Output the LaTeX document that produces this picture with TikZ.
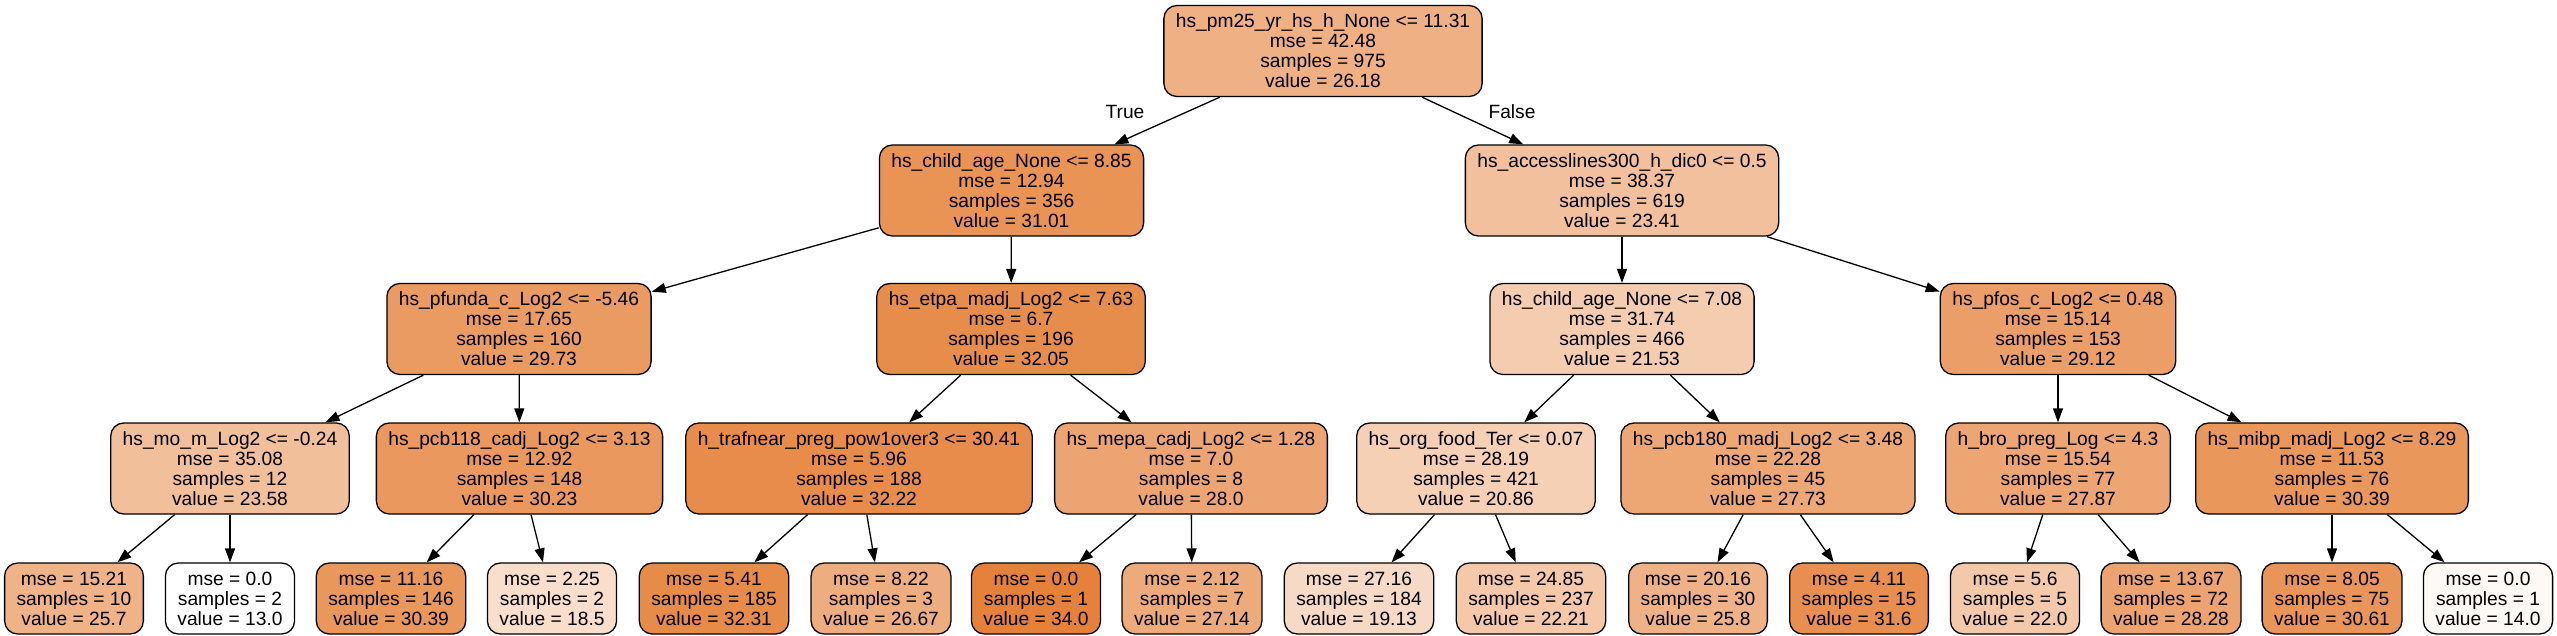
\documentclass[tikz,border=0pt]{standalone}
\usepackage{fontspec}
\setmainfont{Liberation Sans}
\usepackage{tikz}
\usetikzlibrary{arrows.meta}
\definecolor{treeorange}{RGB}{229,129,57}
\tikzstyle{splitnode} = [rectangle, rounded corners=13pt, draw=black, line width=1.3pt, text centered, align=center, inner xsep=12pt, inner ysep=0pt, minimum height=91pt, font=\fontsize{19.2}{20}\selectfont]
\tikzstyle{leafnode} = [splitnode, minimum height=71pt]
\tikzstyle{treearrow} = [line width=1.3pt, ->, >={Triangle[length=14pt,width=10pt]}, color=black]
\tikzstyle{branch} = [font=\fontsize{19.2}{20}\selectfont, inner sep=0pt]

\begin{document}
\begin{tikzpicture}[x=1pt, y=-1pt]
    \useasboundingbox (0,0) rectangle (2557,636);

    % Root
    \node[splitnode, fill=treeorange!62.8] (pm25) at (1323, 51) {hs\_pm25\_yr\_hs\_h\_None <= 11.31\\mse = 42.48\\samples = 975\\value = 26.18};

    % Level 1
    \node[splitnode, fill=treeorange!85.8] (childage) at (1011.5, 190.5) {hs\_child\_age\_None <= 8.85\\mse = 12.94\\samples = 356\\value = 31.01};
    \node[splitnode, fill=treeorange!49.6] (access) at (1622, 190.5) {hs\_accesslines300\_h\_dic0 <= 0.5\\mse = 38.37\\samples = 619\\value = 23.41};

    % Level 2
    \node[splitnode, fill=treeorange!79.7] (pfunda) at (519, 329) {hs\_pfunda\_c\_Log2 <= -5.46\\mse = 17.65\\samples = 160\\value = 29.73};
    \node[splitnode, fill=treeorange!90.7] (etpa) at (1011, 329) {hs\_etpa\_madj\_Log2 <= 7.63\\mse = 6.7\\samples = 196\\value = 32.05};
    \node[splitnode, fill=treeorange!40.6] (childageb) at (1622, 329) {hs\_child\_age\_None <= 7.08\\mse = 31.74\\samples = 466\\value = 21.53};
    \node[splitnode, fill=treeorange!76.8] (pfos) at (2058, 329) {hs\_pfos\_c\_Log2 <= 0.48\\mse = 15.14\\samples = 153\\value = 29.12};

    % Level 3
    \node[splitnode, fill=treeorange!50.4] (mom) at (230, 468.5) {hs\_mo\_m\_Log2 <= -0.24\\mse = 35.08\\samples = 12\\value = 23.58};
    \node[splitnode, fill=treeorange!82.0] (pcbA) at (519.5, 468.5) {hs\_pcb118\_cadj\_Log2 <= 3.13\\mse = 12.92\\samples = 148\\value = 30.23};
    \node[splitnode, fill=treeorange!91.5] (traf) at (859, 468.5) {h\_trafnear\_preg\_pow1over3 <= 30.41\\mse = 5.96\\samples = 188\\value = 32.22};
    \node[splitnode, fill=treeorange!71.4] (mepa) at (1191, 468.5) {hs\_mepa\_cadj\_Log2 <= 1.28\\mse = 7.0\\samples = 8\\value = 28.0};
    \node[splitnode, fill=treeorange!37.4] (orgfood) at (1476, 468.5) {hs\_org\_food\_Ter <= 0.07\\mse = 28.19\\samples = 421\\value = 20.86};
    \node[splitnode, fill=treeorange!70.1] (pcbB) at (1768, 468.5) {hs\_pcb180\_madj\_Log2 <= 3.48\\mse = 22.28\\samples = 45\\value = 27.73};
    \node[splitnode, fill=treeorange!70.8] (bro) at (2058, 468.5) {h\_bro\_preg\_Log <= 4.3\\mse = 15.54\\samples = 77\\value = 27.87};
    \node[splitnode, fill=treeorange!82.8] (mibp) at (2332, 468.5) {hs\_mibp\_madj\_Log2 <= 8.29\\mse = 11.53\\samples = 76\\value = 30.39};

    % Leaves
    \node[leafnode, fill=treeorange!60.5] (leaf1) at (74, 598.5) {mse = 15.21\\samples = 10\\value = 25.7};
    \node[leafnode, fill=white] (leaf2) at (230, 598.5) {mse = 0.0\\samples = 2\\value = 13.0};
    \node[leafnode, fill=treeorange!82.8] (leaf3) at (391, 598.5) {mse = 11.16\\samples = 146\\value = 30.39};
    \node[leafnode, fill=treeorange!26.2] (leaf4) at (552, 598.5) {mse = 2.25\\samples = 2\\value = 18.5};
    \node[leafnode, fill=treeorange!92.0] (leaf5) at (714, 598.5) {mse = 5.41\\samples = 185\\value = 32.31};
    \node[leafnode, fill=treeorange!65.1] (leaf6) at (881, 598.5) {mse = 8.22\\samples = 3\\value = 26.67};
    \node[leafnode, fill=treeorange] (leaf7) at (1036, 598.5) {mse = 0.0\\samples = 1\\value = 34.0};
    \node[leafnode, fill=treeorange!67.3] (leaf8) at (1192, 598.5) {mse = 2.12\\samples = 7\\value = 27.14};
    \node[leafnode, fill=treeorange!29.2] (leaf9) at (1359, 598.5) {mse = 27.16\\samples = 184\\value = 19.13};
    \node[leafnode, fill=treeorange!43.9] (leaf10) at (1531, 598.5) {mse = 24.85\\samples = 237\\value = 22.21};
    \node[leafnode, fill=treeorange!61.0] (leaf11) at (1698, 598.5) {mse = 20.16\\samples = 30\\value = 25.8};
    \node[leafnode, fill=treeorange!88.6] (leaf12) at (1859, 598.5) {mse = 4.11\\samples = 15\\value = 31.6};
    \node[leafnode, fill=treeorange!42.9] (leaf13) at (2015, 598.5) {mse = 5.6\\samples = 5\\value = 22.0};
    \node[leafnode, fill=treeorange!72.8] (leaf14) at (2171, 598.5) {mse = 13.67\\samples = 72\\value = 28.28};
    \node[leafnode, fill=treeorange!83.9] (leaf15) at (2332, 598.5) {mse = 8.05\\samples = 75\\value = 30.61};
    \node[leafnode, fill=treeorange!4.8] (leaf16) at (2488, 598.5) {mse = 0.0\\samples = 1\\value = 14.0};

    % Branch labels
    \node[branch] (truelbl) at (1125, 112) {True};
    \node[branch] (falselbl) at (1512, 112) {False};

    % Arrows
    \draw[treearrow] (pm25) -- (childage);
    \draw[treearrow] (pm25) -- (access);
    \draw[treearrow] (childage) -- (pfunda);
    \draw[treearrow] (childage) -- (etpa);
    \draw[treearrow] (access) -- (childageb);
    \draw[treearrow] (access) -- (pfos);
    \draw[treearrow] (pfunda) -- (mom);
    \draw[treearrow] (pfunda) -- (pcbA);
    \draw[treearrow] (etpa) -- (traf);
    \draw[treearrow] (etpa) -- (mepa);
    \draw[treearrow] (childageb) -- (orgfood);
    \draw[treearrow] (childageb) -- (pcbB);
    \draw[treearrow] (pfos) -- (bro);
    \draw[treearrow] (pfos) -- (mibp);
    \draw[treearrow] (mom) -- (leaf1);
    \draw[treearrow] (mom) -- (leaf2);
    \draw[treearrow] (pcbA) -- (leaf3);
    \draw[treearrow] (pcbA) -- (leaf4);
    \draw[treearrow] (traf) -- (leaf5);
    \draw[treearrow] (traf) -- (leaf6);
    \draw[treearrow] (mepa) -- (leaf7);
    \draw[treearrow] (mepa) -- (leaf8);
    \draw[treearrow] (orgfood) -- (leaf9);
    \draw[treearrow] (orgfood) -- (leaf10);
    \draw[treearrow] (pcbB) -- (leaf11);
    \draw[treearrow] (pcbB) -- (leaf12);
    \draw[treearrow] (bro) -- (leaf13);
    \draw[treearrow] (bro) -- (leaf14);
    \draw[treearrow] (mibp) -- (leaf15);
    \draw[treearrow] (mibp) -- (leaf16);
\end{tikzpicture}
\end{document}
